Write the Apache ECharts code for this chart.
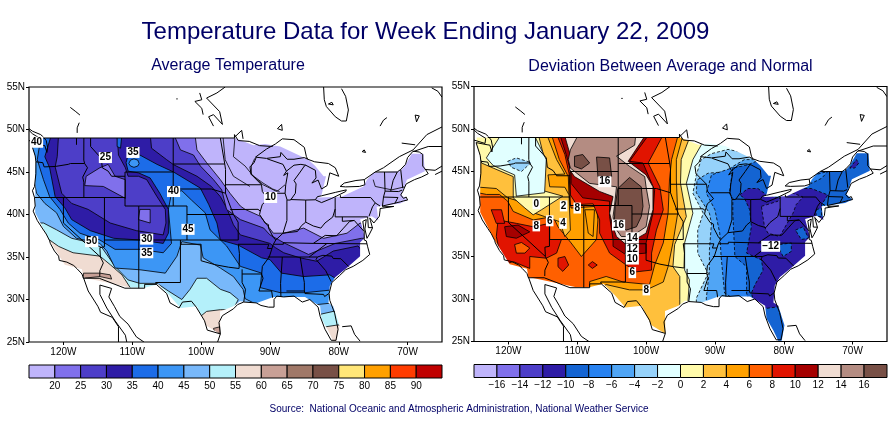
<!DOCTYPE html>
<html>
<head>
<meta charset="utf-8">
<title>Temperature Data for Week Ending January 22, 2009</title>
<script src="https://cdn.jsdelivr.net/npm/echarts@6/dist/echarts.min.js"></script>
<style>
  html, body { margin: 0; padding: 0; background: #fff; }
  #main { width: 895px; height: 423px; }
</style>
</head>
<body>
<div id="main"></div>
<script>
// tick labels
var lonTicks = [-120, -110, -100, -90, -80, -70];
var latTicks = [25, 30, 35, 40, 45, 50, 55];
var avgBarEdges = [15, 20, 25, 30, 35, 40, 45, 50, 55, 60, 65, 70, 75, 80, 85, 90, 95];
var avgBarTicks = [20, 25, 30, 35, 40, 45, 50, 55, 60, 65, 70, 75, 80, 85, 90];
var devBarEdges = [-18, -16, -14, -12, -10, -8, -6, -4, -2, 0, 2, 4, 6, 8, 10, 12, 14, 16, 18];
var devBarTicks = [-16, -14, -12, -10, -8, -6, -4, -2, 0, 2, 4, 6, 8, 10, 12, 14, 16];
var avgColors = ['#bfb4fb', '#8070eb', '#4d3ec8', '#2e1ca6', '#1c6ce8', '#3c96f5', '#78b8fa', '#b4f0fa',
  '#f0dcd2', '#c8a096', '#a07868', '#785046', '#ffe678', '#ffa000', '#ff3c00', '#c00000'];
var devColors = ['#bfb4fb', '#8070eb', '#4d3ec8', '#2e1ca6', '#1464d2', '#2882f0', '#50a5f5', '#96d2fa', '#e1ffff',
  '#fffaaa', '#ffc03c', '#ffa000', '#ff6000', '#e11400', '#a50000', '#f0dcd2', '#b48c82', '#785046'];

// average temperature: isotherms in lon/lat, each one is the edge of the colder side
var avgBelow55 = [[-125,37],[-122,37],[-120.7,36.25],[-118.6,35.5],[-114.7,35.1],[-113.2,34.1],[-111.5,32.9],[-110.3,31.4],[-108.9,28.8],[-102.1,27.2],[-100.1,28],[-99.2,28.6],[-97.2,28.8],[-95.8,28.8],[-95.3,27.2],[-81.8,26.8],[-80.2,27]];
var avgBelow50 = [[-125,39],[-122.9,39],[-121,38.2],[-118.8,37.2],[-116.1,36.7],[-114.4,36.1],[-112.5,33.9],[-110.6,32.3],[-108.9,31.9],[-106.4,31.9],[-104.75,31],[-102.8,30],[-101.6,31.2],[-100.6,32.5],[-99.2,32.5],[-97.2,31.2],[-95.8,30.8],[-94.6,30],[-95.1,29.2],[-94.8,28.8],[-83,28.2],[-80.8,28.6]];
var avgBelow45 = [[-125,44.5],[-124.4,44.5],[-123.9,42.5],[-122.7,41.3],[-121,40.2],[-120,38.6],[-118.1,37.2],[-114.7,36.6],[-113.7,35.7],[-112.5,33.7],[-108.9,33.5],[-105.2,33.1],[-103.5,35.1],[-102.8,36.8],[-100.1,36.4],[-99.7,34.9],[-97.2,33.7],[-95.3,32.7],[-93.9,31.2],[-93.6,30.1],[-91.9,29.4],[-83.2,29.4],[-80.8,29.6]];
var avgBelow40 = [[-123.2,49.5],[-123.8,46.45],[-122.9,44.1],[-122,42.1],[-120.5,40.6],[-119.3,39],[-117.6,37.8],[-114.7,37],[-112.5,35.9],[-108.9,35.9],[-105.5,35.5],[-104.3,36.6],[-104.75,40.6],[-104.3,42.5],[-102.8,42.8],[-101.4,41.7],[-99.4,40.2],[-98.7,38.2],[-96.3,36.3],[-94.3,33.9],[-91.2,33.1],[-91.4,31.4],[-88.5,30.8],[-84.9,30.8],[-81.3,31.1]];
var avgBelow35 = [[-121.7,49.5],[-122.7,46.8],[-122,45.5],[-121.2,42.1],[-119.8,40.8],[-118.8,39.4],[-116.1,38.1],[-112.7,37.2],[-108.9,37],[-105.5,36.6],[-104.75,37.8],[-104.75,40.6],[-106,42.5],[-107.4,44.3],[-109.1,44.9],[-110.6,45.1],[-110.9,46.1],[-110.6,47],[-108.9,47],[-106.4,45.9],[-104,45],[-100.1,43.1],[-98.9,41.2],[-97.7,39],[-97.2,37],[-94.6,36.4],[-91.2,34.9],[-90,34.7],[-88.3,33.1],[-85.1,32.7],[-81.3,32.9],[-80.5,32.5]];
var avgBelow30West = [[-120.7,49.5],[-120.9,46.8],[-121.2,45.6],[-120.25,42.5],[-118.8,41.3],[-116.4,40.6],[-113.2,39],[-109.4,38.1],[-105.5,37.6],[-105.1,39],[-105.2,40.6],[-106.4,42.1],[-107.9,44.1],[-109.1,44.5],[-110.6,44.5],[-111,45.5],[-112,47],[-112.2,49.5]];
var avgBelow30East = [[-107.4,49.5],[-107.2,47.8],[-105,46.45],[-104,45.86],[-100.6,44.5],[-98.5,43.3],[-97.2,42.1],[-96.3,40.8],[-95.3,38.8],[-94.3,37.6],[-90,36.6],[-89.2,36.1],[-88,35.5],[-85.6,34.9],[-83.2,34.5],[-80.8,35.7],[-77.2,36.3],[-76.4,35.5],[-75,35.5]];
var avgBelow25 = [[-104,49.5],[-103,47.6],[-101.1,47],[-100.1,45.7],[-98.2,44.1],[-97,42.9],[-96.3,40.6],[-94.3,39.4],[-90.9,38.4],[-90,37.6],[-87.8,36.6],[-84.4,35.3],[-80.5,36.6],[-76.7,37.2],[-75,37.2]];
var avgBelow20 = [[-100.9,49.5],[-100.6,47.6],[-99.2,46.1],[-97.2,44.1],[-95.8,42.5],[-94.3,41],[-93.6,40.6],[-91.4,39.8],[-89.5,37.8],[-88,37.8],[-85.1,38.4],[-82.2,37.2],[-78.8,37.8],[-76.9,39],[-75,38.6]];
var avgPocketIdaho = [[-116.7,44.5],[-114.7,45.5],[-113.5,45.9],[-112.5,44.5],[-111,44.1],[-111,41.9],[-114.2,43.3],[-116.9,43.4]];
var avgPocketColorado = [[-108.9,40.6],[-107.4,40.6],[-107.4,39],[-109.1,39.4]];
var avgPocketGlacier = [[-112.2,49.5],[-111.5,49.5],[-111.7,47.8],[-112.2,48]];
var avgPocketMontana = [[-110.5,46],[-110.25,46.4],[-109.75,46.55],[-109.2,46.4],[-109,46],[-109.2,45.7],[-109.75,45.55],[-110.25,45.7]];
var avgPocketBaja = [[-117.1,33.1],[-114.7,33.1],[-113.2,32.9],[-113,32.4],[-114.7,32.7],[-117.1,32.5]];
var avgPocketTexas = [[-98.2,26.6],[-97.2,26.8],[-97.2,26],[-98,26.1]];
var avgExtraLines = [
  [[-96.8,49],[-96.5,46.45],[-95.3,44.5],[-92.9,43.3]],
  [[-95.1,49],[-95.3,46.8],[-93.6,45.7],[-92.4,44.5],[-91,43.5],[-89,42.7],[-87.8,43.5]],
  [[-92.2,46.6],[-92.7,45.7],[-92.7,44.7],[-91,43.7],[-89.6,43],[-88.6,42.7]],
  [[-75,44.1],[-74.7,43.3],[-72.3,42.9],[-70.2,43.3]]
];
var avgLabels = [[-123.9,48.5,'40'],[-113.9,46.7,'25'],[-109.9,47.3,'35'],[-104,42.7,'40'],[-89.9,42,'10'],[-115.9,36.8,'50'],[-107.9,37.1,'30'],[-107.9,35.5,'35'],[-101.9,38.25,'45']];

// departure from normal: same idea, east side of the ridge and the west side kept apart
var devWestBelow6 = [[-125,42.5],[-124.4,42.5],[-123.2,42.3],[-121.3,42.3],[-120.1,41.5],[-119.3,40.3],[-116.4,39.3],[-113.5,39.7],[-112.8,38.5],[-110.9,36.6],[-109.4,35],[-107.2,37],[-107,39.3],[-107.2,40.9],[-110.9,40.7],[-111.2,42.1],[-111.3,44.4],[-112.6,46.4],[-114,50],[-114,55],[-125,55]];
var devWestBelow4 = [[-125,43.2],[-121.76,43],[-120.1,41.9],[-117.6,41.3],[-116.9,40.3],[-114.74,39.7],[-112.56,39.1],[-111.8,37.35],[-111,38.1],[-111.2,42.25],[-111.8,43.15],[-114,43.2],[-114.25,44.6],[-111.8,44.7],[-113,46.4],[-114.74,50],[-114.74,55],[-125,55]];
var devWestBelow2 = [[-125,47],[-124.3,47],[-123.9,46],[-122.2,45.4],[-119.3,44.4],[-119.3,41.9],[-117.6,40.7],[-116.4,39.9],[-115.2,40.5],[-112.1,42.1],[-115.2,42.8],[-114.74,46.4],[-115.85,50],[-115.85,55],[-125,55]];
var devWestBelow0 = [[-123.2,46.6],[-122.2,45.7],[-119.1,44.6],[-118.85,42.1],[-114.74,42.5],[-114.5,46.4],[-116.7,50],[-120.55,50]];
var devWestBelowM2 = [[-120.1,46.2],[-118.85,46.6],[-116.7,46.05],[-118.1,45],[-119.6,45.5]];
var devPocketUtah = [[-108.9,40.5],[-107.5,40.5],[-107.7,37.35],[-108.4,37.75]];
var devSouthwest8 = [[-121.5,39.3],[-118.85,38.9],[-116.4,38.5],[-114,38.9],[-114,37],[-112.3,37],[-113,35.4],[-114.5,34.8],[-116.9,35],[-116.9,33.6],[-119.3,34.4],[-120.1,34.2],[-121.3,35.6],[-121.76,37.35]];
var devNevada8 = [[-122.5,40.5],[-121,40.5],[-120.55,38.9],[-121.76,38.9]];
var devSouthwest10 = [[-120.55,38.5],[-118.6,38.7],[-116.9,37.9],[-118.85,37.15],[-120.3,37.35]];
var devDesert6 = [[-119.1,36.4],[-118.1,36.65],[-116.9,36],[-117.6,35.4],[-118.85,35.4]];
var devArizona8 = [[-112.8,34.8],[-111.8,35],[-111.25,34],[-112.1,33.25],[-112.8,33.8]];
var devNewMexico8 = [[-108.4,34],[-107.8,34.4],[-107.1,34],[-107.8,33.6]];
var devRidge8 = [[-113.3,50],[-111.8,47],[-111.2,44.8],[-111,42.25],[-110.1,41.1],[-107.7,41.2],[-106.75,39.3],[-106.75,37.75],[-105.3,35.4],[-102.9,34],[-101.4,33.2],[-99.2,33.4],[-99.2,35.4],[-98.5,38.1],[-97.5,40.5],[-98,43.2],[-99.7,46],[-97.06,50]];
var devRidge10 = [[-112.8,50],[-111.6,47],[-110.9,44.8],[-110.9,43.6],[-109.2,41.9],[-105.3,41.5],[-105.3,39.7],[-104.8,37],[-104.8,36.2],[-102.9,35.2],[-100,35.4],[-100,36.6],[-99,40.1],[-98.76,42.8],[-100.45,46],[-102.4,46.2],[-99,50]];
var devRidge12 = [[-112.1,50],[-110.9,46.6],[-111.1,45.2],[-110.4,44.4],[-106.75,42.65],[-104.8,42.05],[-105.3,40.1],[-104.8,38.5],[-104.3,37.35],[-102.9,36.4],[-100,37.75],[-99,40.5],[-99,43.2],[-100,44.6],[-102.6,46.2],[-99.5,50]];
var devRidge14 = [[-109.4,50],[-111,47.55],[-111.3,46.4],[-111,45.4],[-108.2,43.6],[-104.3,43.2],[-104.6,40.9],[-104.8,39.7],[-104.6,38.5],[-103.6,37.35],[-102.15,37.35],[-100,38.5],[-99.5,40.9],[-100,43.2],[-100.2,44.4],[-102.4,45.6],[-104.3,46.8],[-101.66,48.1],[-101.4,50]];
var devRidge16 = [[-104.1,43],[-102.4,44.3],[-100.7,43.2],[-100.45,40.9],[-100.7,39.7],[-101.4,38.5],[-102.9,38.1],[-104.6,39.3],[-104.5,40.9]];
var devDakota16 = [[-107.2,46.7],[-105.3,46.6],[-105,44.4],[-107,44.4]];
var devMontana16 = [[-110.4,46.8],[-109.2,47],[-108.2,46],[-109.4,45.3],[-110.4,45.6]];
var devEastBelow6 = [[-95.1,50],[-96.3,46.4],[-96.6,44],[-96.8,40.1],[-97.5,36.6],[-98.75,34],[-99.5,31.7],[-103.35,32],[-105.8,32.65],[-108.2,32.05],[-108.2,25]];
var devEastBelow4 = [[-94.4,50],[-95.6,46.4],[-95.6,44],[-95.4,40.1],[-96.1,36.6],[-96.8,33.8],[-97.5,32],[-99.96,31.07],[-102.4,31.07],[-105.8,31.7],[-107.2,30.9],[-107.2,25]];
var devEastBelow2 = [[-93.2,50],[-94.9,46.4],[-95,43.6],[-94.15,39.7],[-95.85,36.4],[-96.1,33.8],[-95.1,32.65],[-95.1,29.9],[-95.1,25]];
var devEastBelow0 = [[-91.3,50],[-92,48.1],[-93.2,46.4],[-94.15,43.6],[-93.2,40.1],[-94.4,36.6],[-94.4,33.4],[-93.7,32.25],[-93.9,29.9],[-93.9,25]];
var devEastBelowM2 = [[-84.5,46.6],[-85.7,47.2],[-88.1,47.6],[-90.5,47.1],[-92,46.4],[-92.7,44.6],[-93.2,42.45],[-91.7,40.1],[-92.5,38.1],[-92.5,35.4],[-91,33],[-92.7,30.1],[-92.7,25]];
var devEastBelowM4 = [[-82.8,46.6],[-84.5,46.4],[-85.7,46.4],[-87.6,45.5],[-88.1,45],[-91,44.8],[-92.6,44],[-92.7,42.5],[-90.8,40.1],[-90.5,38.9],[-90.8,35.8],[-90.8,33.4],[-91.25,30.1],[-91.25,25]];
var devEastBelowM6 = [[-82.8,46],[-87.6,45.4],[-90.5,44.6],[-91.25,42.45],[-90,40.5],[-89.3,37.75],[-89.1,35],[-88.6,30.7],[-87.6,30.2],[-87.6,25]];
var devEastBelowM8 = [[-81.8,46],[-84,46.2],[-85.2,45.8],[-87.4,45.4],[-87.9,42.45],[-87.4,41.85],[-87.4,40.1],[-87.1,35],[-85.4,33.8],[-85.4,30.7],[-85.2,30.1],[-85.2,25]];
var devEastBelowM10 = [[-86.4,42.25],[-85.2,43],[-83.75,43],[-82.5,42.25],[-80.6,41.85],[-78.65,42.45],[-78.65,43],[-76,43],[-73.6,42.25],[-74.5,41.1],[-74.5,39.7],[-72.1,39.3],[-72.1,29.1],[-80.6,29.1],[-82.5,28.9],[-84.5,29.3],[-84.5,30.1],[-84.7,30.7],[-84.2,31.65],[-83,33.4],[-83.25,34.6],[-85.4,35.4],[-84.7,38.5],[-84.95,40.5],[-85.7,41.85]];
var devOhioBelowM12 = [[-83.25,40.9],[-80.85,41.5],[-80.35,42.25],[-78.65,42.45],[-77.2,42],[-78.2,41.1],[-78.65,40.1],[-80.6,37.35],[-82.3,37.75],[-82.8,38.5]];
var devNewYork6 = [[-76.2,44],[-75.5,44.6],[-73.6,45],[-74.5,44.2],[-76,43.6]];
var devVirginia8 = [[-78.3,38.1],[-77.2,38.5],[-76.4,37.15],[-77.45,37]];
var devCarolina8 = [[-80.6,36.4],[-78.9,36.6],[-78.9,35.6],[-80.1,35],[-80.6,35.8]];
var devJersey8 = [[-75.3,40.5],[-74.5,40.7],[-74.5,39.7],[-75.3,39.7]];
var devMaine10 = [[-70.4,45.4],[-69.45,46.4],[-69.1,46],[-69.7,45.4]];
var devLabels = [[-115.95,41.2,'0'],[-111.98,40.95,'2'],[-110,40.7,'8'],[-115.95,38.6,'8'],[-114,39.2,'6'],[-112.07,38.9,'4'],[-106,43.8,'16'],[-104,38.7,'16'],[-102,37.2,'14'],[-102,35.85,'12'],[-102,34.7,'10'],[-102,33.1,'6'],[-99.97,31.07,'8'],[-81.9,36.2,'\u221212']];

// white outside this outline: the gridded fields stop at land
var landEdge = [[-124.6,49],[-95.1,49],[-92.4,48.15],[-90.7,48.3],[-88.5,48],[-84.4,46.45],[-83.45,45.75],[-82.2,44.5],[-81.85,44.5],[-82.5,42.3],[-83,42],[-79.6,42.1],[-76.4,43.3],[-75.9,44.1],[-75,44.9],[-71.1,45.1],[-70.4,45.7],[-69.4,47.15],[-67.7,47.15],[-67.5,45.1],[-70.1,44.1],[-70.9,42.3],[-70,41.7],[-71.1,41.3],[-74.5,40.9],[-74.25,39.3],[-75.2,39.8],[-76.9,39.4],[-76.2,37.3],[-76.9,36.7],[-76.9,35.1],[-78.85,33.7],[-80.55,32.6],[-81.3,31.6],[-81.5,29.6],[-80.8,29.2],[-79.9,26.9],[-80.3,25.1],[-80.8,25.1],[-81.5,26.3],[-82.5,27.7],[-82.7,29.2],[-84.9,30.3],[-89.5,30.3],[-91.9,29.6],[-94.35,29.8],[-95.3,29.2],[-97.25,28.6],[-97.2,25.9],[-99.2,26.9],[-100.2,28.45],[-100.6,29.2],[-103,29],[-104.5,30.4],[-106.2,31.8],[-108.1,31.4],[-110.3,31.4],[-117.1,32.6],[-117.3,33.55],[-119.8,34.1],[-122,36.9],[-124.1,40.2],[-124.1,44.5],[-124,46.45],[-124.6,48.3]];

// state borders
var stateLines = [
  [[-123,49],[-95.15,49],[-95.15,49.4],[-94.6,48.7],[-93,48.6],[-91.5,48.1],[-89.6,48]],
  [[-124,46.2],[-123,46.1],[-122.8,45.6],[-121.2,45.65],[-119.3,45.9],[-118.98,46],[-116.92,46]],
  [[-117.03,49],[-117.04,46.4],[-116.92,46],[-116.5,45.5],[-117.2,44.4],[-117.03,43.8],[-117.03,42]],
  [[-124.2,42],[-111.05,42]],
  [[-120,42],[-120,39],[-114.63,35],[-114.2,34.3],[-114.7,33.4],[-114.72,32.7]],
  [[-114.04,42],[-114.04,36.2],[-114.7,36.1],[-114.63,35]],
  [[-114.04,37],[-94.6,37]],
  [[-116.05,49],[-116.05,48],[-114.5,46.6],[-114.35,45.5],[-113.5,45.1],[-113,44.5],[-111.05,44.5]],
  [[-111.05,45],[-111.05,41],[-109.05,41]],
  [[-109.05,41],[-109.05,31.33]],
  [[-111.05,45],[-104.05,45]],
  [[-109.05,41],[-102.05,41],[-102.05,37]],
  [[-104.05,49],[-104.05,41]],
  [[-104.05,45.94],[-96.56,45.94]],
  [[-104.05,43],[-98.5,43],[-96.45,42.5]],
  [[-102.05,40],[-95.3,40]],
  [[-103,37],[-103,32],[-106.6,32],[-106.5,31.78]],
  [[-103,36.5],[-100,36.5],[-100,34.56],[-98,34.1],[-96,33.8],[-94.5,33.65]],
  [[-94.04,33.55],[-94.04,31.99],[-93.55,31.2],[-93.8,29.7]],
  [[-94.6,36.5],[-94.43,35.4],[-94.48,33.64]],
  [[-94.62,36.5],[-90.15,36.5],[-90.37,36],[-89.7,36]],
  [[-94.6,37],[-94.62,39.1],[-95.3,40],[-96.1,41.7],[-96.45,42.5]],
  [[-95.77,40.58],[-91.73,40.61],[-91.4,40.4]],
  [[-96.45,42.5],[-96.45,45.3],[-96.56,45.94],[-97.2,49]],
  [[-96.45,43.5],[-91.22,43.5]],
  [[-92,46.7],[-92.3,46.1],[-92.9,45.6],[-92.75,44.75],[-91.22,43.5],[-91.1,42.7],[-90.2,41.8],[-91.1,41.2],[-91.4,40.4],[-91.5,40],[-90.7,39],[-90.2,38.8],[-90.2,38.4],[-89.5,37.3],[-89.15,37],[-89.5,36.5],[-89.7,36],[-90.1,35],[-91.1,33.9],[-91.2,33],[-91,32.5],[-91.6,31],[-89.75,31],[-89.6,30.2]],
  [[-94.04,33],[-91.2,33]],
  [[-90.3,35],[-83.1,35]],
  [[-84.3,35],[-83,35.8],[-81.7,36.6]],
  [[-89.5,36.5],[-88.05,36.5],[-88.05,36.68],[-83.7,36.6],[-75.9,36.55]],
  [[-88.2,35],[-88.45,31.9],[-88.4,30.3]],
  [[-85.6,35],[-85.2,32.9],[-85,32],[-85,31]],
  [[-87.6,31],[-85,31],[-84.9,30.7],[-82.2,30.6],[-82.05,30.35],[-81.45,30.7]],
  [[-83.1,35],[-83.3,34.7],[-81.9,33.4],[-81.1,32.1]],
  [[-83.1,35],[-82.3,35.2],[-81,35.1],[-80.8,34.82],[-79.7,34.8],[-78.55,33.87]],
  [[-89.15,37],[-88.1,37.8],[-87.1,37.9],[-86,38],[-85.4,38.7],[-84.8,39.1],[-83.7,38.65],[-82.6,38.4],[-82,39],[-80.87,39.7],[-80.52,40.64]],
  [[-87.53,41.7],[-87.53,39.3],[-88.1,37.8]],
  [[-84.8,41.7],[-84.8,39.1]],
  [[-87,41.76],[-84.8,41.7],[-83.45,41.73]],
  [[-90.64,42.5],[-87.8,42.5]],
  [[-90.4,46.55],[-88.1,45.9],[-87.6,45.1]],
  [[-80.52,42],[-80.52,39.72],[-75.8,39.72]],
  [[-83.7,36.6],[-81.97,37.54],[-80.3,37.5],[-79.3,38.4],[-78.4,39.2],[-77.75,39.3]],
  [[-79.48,39.72],[-79.48,39.2],[-77.75,39.3],[-77.1,38.7],[-76.3,38]],
  [[-79.76,42.27],[-79.76,42],[-75.35,42],[-74.7,41.36],[-75.1,40.9],[-75.6,39.8]],
  [[-74.7,41.36],[-74,41]],
  [[-73.65,41],[-73.5,42.05],[-73.27,42.75],[-73.35,45]],
  [[-73.5,42.05],[-71.4,42],[-71.85,41.3]],
  [[-73.27,42.75],[-71.3,42.7],[-70.8,42.87]],
  [[-72.46,42.73],[-72.1,44],[-71.5,45]],
  [[-70.7,43.1],[-71,45.3]],
  [[-75.8,39.72],[-75.7,38.46],[-75.05,38.45]]
];

// coasts, lakes and the Canadian and Mexican lines around the field
var coastLines = [
  [[-122.8,49],[-122.5,48.7],[-122.3,47.9],[-122.4,47.3],[-122.7,48.1],[-123.1,48.15],[-124.7,48.4],[-124.1,46.9],[-124,46.2],[-124,44.8],[-124.2,43.3],[-124.5,42.8],[-124.2,42],[-124.1,41],[-124.4,40.4],[-123.8,39.3],[-123,38.3],[-122.5,37.7],[-122,36.9],[-121.9,36.6],[-121.3,35.7],[-120.7,35.1],[-120.6,34.6],[-119.5,34.4],[-118.5,34],[-118,33.6],[-117.3,33],[-117.1,32.5],[-114.8,32.5],[-111.07,31.33],[-108.2,31.33],[-108.2,31.78],[-106.5,31.78],[-105,30.7],[-104.5,29.6],[-103.2,29],[-102.7,29.7],[-101.4,29.8],[-100.7,29.1],[-99.5,27.5],[-99.1,26.4],[-97.2,25.95],[-97.4,27.3],[-96.9,28.1],[-95.3,28.9],[-94.7,29.4],[-93.8,29.7],[-92,29.6],[-91.3,29.3],[-90.2,29.1],[-89.4,29.1],[-89.4,30],[-89,30.4],[-88,30.3],[-86.5,30.4],[-85.3,29.7],[-84.2,30],[-83,29.1],[-82.7,28],[-82,26.5],[-81.1,25.2],[-80.4,25.2],[-80.1,26.5],[-80.6,28.4],[-81.3,29.9],[-81.4,30.7],[-81,32],[-79.9,32.8],[-79,33.5],[-77.9,33.9],[-76.5,34.6],[-75.5,35.3],[-75.8,36.2],[-76,36.9],[-76.3,37],[-76.3,38],[-76.5,39.2],[-76,39.4],[-76.2,38.3],[-75.9,37.2],[-75.6,37.6],[-75.1,38.4],[-75.4,39.3],[-75.5,39.6],[-74.9,39],[-74.1,39.8],[-74,40.5],[-74,40.7],[-72,40.95],[-73.6,40.9],[-73.65,41],[-72,41.3],[-71,41.5],[-70.6,41.6],[-70,41.7],[-70.2,42.05],[-70.6,41.9],[-71,42.3],[-70.7,42.7],[-70.2,43.6],[-69,44.1],[-68,44.4],[-67,44.8],[-67.4,45.3],[-67.8,45.7],[-67.8,47.07],[-68.3,47.35],[-69.2,47.45],[-70,46.7],[-70.3,45.9],[-71,45.3],[-71.5,45],[-74.7,45]],
  [[-125,48.7],[-123.4,48.3],[-123.3,48.9],[-124.5,49.5],[-125,49.9]],
  [[-122.9,49.1],[-123.3,49.4],[-124.5,49.8],[-125,50.1]],
  [[-92.1,46.75],[-90.5,47.7],[-89.2,48.3],[-88.2,48.9],[-86.5,48.8],[-85,47.9],[-84.7,46.8],[-84.5,46.5],[-85,46.7],[-86.5,46.5],[-87.5,46.5],[-88.4,47.3],[-88.5,46.8],[-90.5,46.6],[-92.1,46.75]],
  [[-84.8,45.8],[-85.5,45.9],[-86.5,45.8],[-87.6,45.1],[-88,44.6],[-87.4,44.9],[-87.7,43.5],[-87.8,42.5],[-87.5,41.7],[-87,41.7],[-86.3,42.5],[-86.2,43.6],[-86.5,44],[-85.6,45],[-85,45.7],[-84.8,45.8]],
  [[-84.8,45.8],[-83.4,45.2],[-83.3,44.3],[-83.9,43.7],[-83,44.05],[-82.5,43],[-81.7,43.4],[-81.3,44.9],[-80,44.5],[-80.5,45.5],[-81.5,46],[-83.5,46.2],[-84.5,46.5]],
  [[-83.4,41.73],[-82.5,41.4],[-81,41.9],[-79,42.7],[-78.9,42.9],[-80.5,42.6],[-82.5,42.2],[-83.1,42.1],[-83.4,41.73]],
  [[-79.8,43.3],[-79,43.25],[-77,43.3],[-76.2,43.5],[-76.3,44.1],[-77.5,44],[-79.2,43.7],[-79.8,43.3]],
  [[-76.3,44.1],[-74.7,45],[-73.5,45.5],[-71.2,46.8],[-69.2,47.6],[-67.2,49.4],[-65,50.3]],
  [[-70.85,48.4],[-68.9,48.2]],
  [[-69.2,47.4],[-67,48],[-65,48]],
  [[-67.5,45.3],[-66,45.2],[-65,45.7]],
  [[-66,44.7],[-65,45.1]],
  [[-82.2,55],[-82.1,53.5],[-81.8,52.7],[-80.5,51.5],[-79.6,51],[-78.9,51],[-78.6,52.3],[-79,53.9],[-79.6,54.8]],
  [[-81.5,53],[-81,53.2],[-80.8,52.9],[-81.5,53]],
  [[-74,50.4],[-73.5,51.1],[-73,51.4]],
  [[-68.9,51.7],[-68.3,51.6],[-68.7,50.9],[-68.9,51.7]],
  [[-76.6,47.4],[-76.3,47.6],[-76.1,47.3],[-76.6,47.4]],
  [[-66.5,54.9],[-65.6,54.5],[-65,53.8]],
  [[-95,49.2],[-94.1,49.9],[-93.9,48.9]],
  [[-88.9,50.1],[-88.3,50.6],[-88.2,49.9],[-88.9,50.1]],
  [[-119,52.6],[-118.2,52.1],[-117.6,51.7]],
  [[-117.7,50.8],[-118,50.2],[-118,49.6]],
  [[-118.1,49],[-118.1,48.2]],
  [[-103.6,53.6],[-103.4,53.6]],
  [[-100.2,54.3],[-99.9,53.5],[-100.9,53.3],[-99.9,52.5],[-99.7,51.75]],
  [[-96.5,55],[-97.7,54.3],[-99.2,53.7],[-97.3,52.1],[-96.9,50.6],[-98.2,51.75],[-98.9,51.5],[-98.2,50.4]],
  [[-117.1,32.6],[-116.4,31],[-115,29.2],[-114.6,28.5],[-112.9,27.9],[-112,26.8],[-112,25]],
  [[-114.7,31.7],[-114.7,30.6],[-113.7,29],[-112.5,27.5],[-111,25.8],[-110.8,25]],
  [[-114.7,31.7],[-113,31.3],[-113.4,30.3],[-112.6,29.2],[-111.8,28],[-110.6,27.1],[-109.4,25.6],[-108.3,25]],
  [[-97.2,25.95],[-97.6,25]],
  [[-79.5,26.8],[-78.2,26.9],[-77.7,25.9],[-76.9,25.1]]
];

function northEastOf(edge) {
  var first = edge[0], last = edge[edge.length - 1];
  return edge.concat([[-65, last[1]], [-65, 55], [first[0], 55]]);
}

// painted in this order, warm to cold, pockets last
var avgLayers = [
  { color: avgColors[9], path: avgPocketBaja },
  { color: avgColors[9], path: avgPocketTexas },
  { color: avgColors[7], path: northEastOf(avgBelow55) },
  { color: avgColors[6], path: northEastOf(avgBelow50) },
  { color: avgColors[5], path: northEastOf(avgBelow45) },
  { color: avgColors[4], path: northEastOf(avgBelow40) },
  { color: avgColors[3], path: northEastOf(avgBelow35) },
  { color: avgColors[2], path: avgBelow30West },
  { color: avgColors[2], path: northEastOf(avgBelow30East) },
  { color: avgColors[1], path: northEastOf(avgBelow25) },
  { color: avgColors[0], path: northEastOf(avgBelow20) },
  { color: avgColors[1], path: avgPocketIdaho },
  { color: avgColors[1], path: avgPocketColorado },
  { color: avgColors[4], path: avgPocketGlacier },
  { color: avgColors[5], path: avgPocketMontana }
];
var devLayers = [
  { color: devColors[11], path: devWestBelow6 },
  { color: devColors[10], path: devWestBelow4 },
  { color: devColors[11], path: devPocketUtah },
  { color: devColors[9], path: devWestBelow2 },
  { color: devColors[8], path: devWestBelow0 },
  { color: devColors[7], path: devWestBelowM2, dash: true },
  { color: devColors[13], path: devSouthwest8 },
  { color: devColors[13], path: devNevada8 },
  { color: devColors[14], path: devSouthwest10 },
  { color: devColors[12], path: devDesert6 },
  { color: devColors[13], path: devArizona8 },
  { color: devColors[13], path: devNewMexico8 },
  { color: devColors[13], path: devRidge8 },
  { color: devColors[14], path: devRidge10 },
  { color: devColors[15], path: devRidge12 },
  { color: devColors[16], path: devRidge14 },
  { color: devColors[17], path: devRidge16 },
  { color: devColors[17], path: devDakota16 },
  { color: devColors[17], path: devMontana16 },
  { color: devColors[11], path: northEastOf(devEastBelow6) },
  { color: devColors[10], path: northEastOf(devEastBelow4) },
  { color: devColors[9], path: northEastOf(devEastBelow2) },
  { color: devColors[8], path: northEastOf(devEastBelow0) },
  { color: devColors[7], path: northEastOf(devEastBelowM2), dash: true },
  { color: devColors[6], path: northEastOf(devEastBelowM4), dash: true },
  { color: devColors[5], path: northEastOf(devEastBelowM6), dash: true },
  { color: devColors[4], path: northEastOf(devEastBelowM8), dash: true },
  { color: devColors[5], path: devNewYork6, dash: true },
  { color: devColors[3], path: devEastBelowM10, dash: true },
  { color: devColors[2], path: devOhioBelowM12, dash: true },
  { color: devColors[4], path: devVirginia8, dash: true },
  { color: devColors[4], path: devCarolina8, dash: true },
  { color: devColors[4], path: devJersey8, dash: true },
  { color: devColors[3], path: devMaine10, dash: true }
];

var plotCorners = [[-125, 25], [-65, 25], [-65, 55], [-125, 55]];
var outsideLand = [[-124.6, 49], [-125, 49], [-125, 25], [-65, 25], [-65, 55], [-125, 55], [-125, 49]].concat(landEdge);

function fieldSeries(axisIndex, baseColor, layers, extraLines) {
  var all = [{ color: baseColor, path: plotCorners, plain: true }].concat(layers);
  var grid = { xAxisIndex: axisIndex, yAxisIndex: axisIndex };
  var mapPaths = stateLines.concat(coastLines);
  return [
    Object.assign({
      type: 'custom', clip: true, silent: true,
      data: all.map(function (d, i) { return i; }),
      renderItem: function (params, api) {
        var d = all[params.dataIndex];
        return {
          type: 'polygon',
          shape: { points: d.path.map(function (c) { return api.coord(c); }) },
          style: { fill: d.color, stroke: d.plain ? null : '#000', lineWidth: 0.8, lineDash: d.dash ? [3, 2] : null }
        };
      }
    }, grid),
    Object.assign({
      type: 'custom', clip: true, silent: true,
      data: extraLines.map(function (d, i) { return i; }),
      renderItem: function (params, api) {
        return {
          type: 'polyline',
          shape: { points: extraLines[params.dataIndex].map(function (c) { return api.coord(c); }) },
          style: { fill: null, stroke: '#000', lineWidth: 0.8 }
        };
      }
    }, grid),
    Object.assign({
      type: 'custom', clip: true, silent: true,
      data: [0],
      renderItem: function (params, api) {
        return {
          type: 'polygon',
          shape: { points: outsideLand.map(function (c) { return api.coord(c); }) },
          style: { fill: '#fff', stroke: null }
        };
      }
    }, grid),
    Object.assign({
      type: 'custom', clip: true, silent: true,
      data: mapPaths.map(function (d, i) { return i; }),
      renderItem: function (params, api) {
        return {
          type: 'polyline',
          shape: { points: mapPaths[params.dataIndex].map(function (c) { return api.coord(c); }) },
          style: { fill: null, stroke: '#000', lineWidth: 1 }
        };
      }
    }, grid),
    Object.assign({
      type: 'custom', clip: false, silent: true,
      data: [0],
      renderItem: function (params, api) {
        return {
          type: 'polygon',
          shape: { points: plotCorners.map(function (c) { return api.coord(c); }) },
          style: { fill: null, stroke: '#000', lineWidth: 1.2 }
        };
      }
    }, grid)
  ];
}

function labelSeries(axisIndex, labels) {
  return {
    type: 'scatter', xAxisIndex: axisIndex, yAxisIndex: axisIndex, silent: true,
    symbolSize: 0, data: labels,
    itemStyle: { opacity: 1 },
    label: {
      show: true, position: 'inside', color: '#000', backgroundColor: '#fff', padding: [1, 1, 0, 1], opacity: 1,
      fontFamily: 'Liberation Sans', fontSize: 10, fontWeight: 'bold',
      formatter: function (p) { return p.value[2]; }
    }
  };
}

function barSeries(axisIndex, edges, colors) {
  return {
    type: 'custom', xAxisIndex: axisIndex, yAxisIndex: axisIndex, clip: false, silent: true,
    data: colors.map(function (c, i) { return i; }),
    renderItem: function (params, api) {
      var i = params.dataIndex;
      var a = api.coord([edges[i], 0]), b = api.coord([edges[i + 1], 1]);
      return {
        type: 'rect',
        shape: { x: a[0], y: b[1], width: b[0] - a[0], height: a[1] - b[1] },
        style: { fill: colors[i], stroke: '#000', lineWidth: 1 }
      };
    }
  };
}

var tickFont = { fontFamily: 'Liberation Sans', fontSize: 10, color: '#000' };

function lonAxis(gridIndex) {
  return {
    type: 'value', gridIndex: gridIndex, min: -125, max: -65, interval: 5, splitLine: { show: false },
    axisLine: { show: false },
    axisTick: { show: true, length: 3, customValues: lonTicks, lineStyle: { color: '#000' } },
    axisLabel: Object.assign({ show: true, margin: 5, customValues: lonTicks,
      formatter: function (v) { return Math.abs(v) + 'W'; } }, tickFont)
  };
}
function latAxis(gridIndex) {
  return {
    type: 'value', gridIndex: gridIndex, min: 25, max: 55, interval: 5, splitLine: { show: false },
    axisLine: { show: false },
    axisTick: { show: true, length: 3, customValues: latTicks, lineStyle: { color: '#000' } },
    axisLabel: Object.assign({ show: true, margin: 4, customValues: latTicks,
      formatter: function (v) { return v + 'N'; } }, tickFont)
  };
}
function barAxisX(gridIndex, edges, ticks) {
  return {
    type: 'value', gridIndex: gridIndex, min: edges[0], max: edges[edges.length - 1], interval: edges[1] - edges[0],
    splitLine: { show: false }, axisLine: { show: false }, axisTick: { show: false },
    axisLabel: Object.assign({ show: true, margin: 3, customValues: ticks,
      formatter: function (v) { return String(v).replace('-', '\u2212'); } }, tickFont)
  };
}
function barAxisY(gridIndex) {
  return { type: 'value', gridIndex: gridIndex, min: 0, max: 1, show: false };
}

var headFont = { fontFamily: 'Liberation Sans', color: '#000066', fontWeight: 'normal' };

// title boxes carry a 5px padding, so left is the text centre minus 5
var myChart = echarts.init(document.getElementById('main'), null, { renderer: 'canvas' });
myChart.setOption({
  animation: false,
  backgroundColor: '#fff',
  title: [
    { text: 'Temperature Data for Week Ending January 22, 2009', left: 420.5, top: 15, textAlign: 'center', textStyle: Object.assign({ fontSize: 24 }, headFont) },
    { text: 'Average Temperature', left: 223, top: 53, textAlign: 'center', textStyle: Object.assign({ fontSize: 16 }, headFont) },
    { text: 'Deviation Between Average and Normal', left: 665.5, top: 54, textAlign: 'center', textStyle: Object.assign({ fontSize: 16 }, headFont) },
    { text: 'Source:  National Oceanic and Atmospheric Administration, National Weather Service', left: 454, top: 399, textAlign: 'center', textStyle: Object.assign({ fontSize: 10 }, headFont) }
  ],
  grid: [
    { left: 29, top: 87, width: 413, height: 255 },
    { left: 474, top: 86.5, width: 413, height: 255 },
    { left: 29, top: 365, width: 413, height: 13 },
    { left: 474, top: 364.5, width: 413, height: 13 }
  ],
  xAxis: [lonAxis(0), lonAxis(1), barAxisX(2, avgBarEdges, avgBarTicks), barAxisX(3, devBarEdges, devBarTicks)],
  yAxis: [latAxis(0), latAxis(1), barAxisY(2), barAxisY(3)],
  series: []
    .concat(fieldSeries(0, avgColors[8], avgLayers, avgExtraLines))
    .concat(fieldSeries(1, devColors[12], devLayers, []))
    .concat([
      labelSeries(0, avgLabels),
      labelSeries(1, devLabels),
      barSeries(2, avgBarEdges, avgColors),
      barSeries(3, devBarEdges, devColors)
    ])
});
</script>
</body>
</html>
